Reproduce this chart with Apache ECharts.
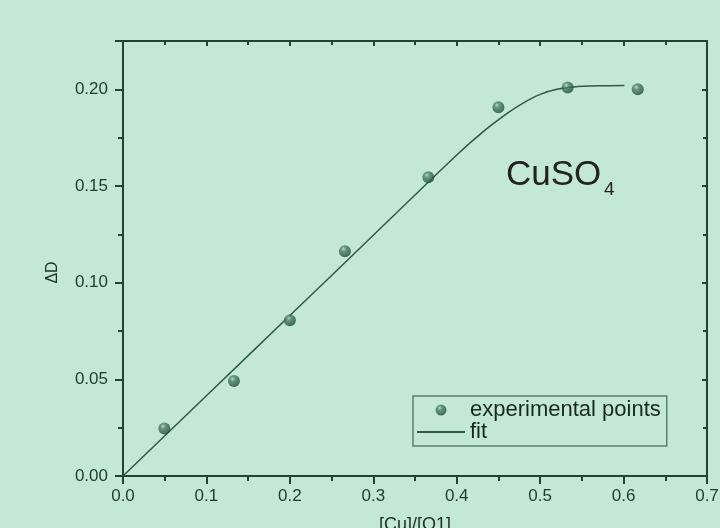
<!DOCTYPE html>
<html>

<head>
  <title>CuSO4</title>
  <script src="https://cdn.jsdelivr.net/npm/echarts@6/dist/echarts.min.js"></script>
  <style>
    html, body { margin: 0; padding: 0; background: #c3e9d6; }
  </style>
</head>

<body>
  <div id="main" style="width: 720px;height:528px;"></div>
  <script>
    // experimental points
    var pointX = [0.0496, 0.133, 0.2, 0.266, 0.366, 0.45, 0.533, 0.617];
    var pointY = [0.0246, 0.0491, 0.0806, 0.1163, 0.1545, 0.1907, 0.2010, 0.2000];
    // fit curve
    var fitX = [0, 0.1, 0.2, 0.3, 0.4, 0.43, 0.46, 0.48, 0.5, 0.52, 0.54, 0.57, 0.601];
    var fitY = [0, 0.0415, 0.083, 0.1245, 0.166, 0.1775, 0.1874, 0.193, 0.1974, 0.2, 0.2012, 0.2018, 0.202];

    var axisColor = '#1e4432';
    var font = 'Liberation Sans, Arial, sans-serif';

    var ball = {
      type: 'radial', x: 0.38, y: 0.32, r: 0.7,
      colorStops: [
        { offset: 0, color: '#b4d8c8' },
        { offset: 0.3, color: '#4f8169' },
        { offset: 1, color: '#1d4a35' }
      ]
    };

    var myChart = echarts.init(document.getElementById('main'));

    var baseAxis = {
      axisLine: { show: true, onZero: false, lineStyle: { color: axisColor, width: 2 } },
      splitLine: { show: false },
      minorSplitLine: { show: false }
    };

    var option = {
      backgroundColor: '#c3e9d6',
      animation: false,
      grid: { left: 123, right: 13, top: 41, bottom: 52, containLabel: false, outerBoundsMode: 'none' },
      legend: {
        orient: 'vertical',
        left: 413,
        top: 396,
        padding: [3, 6, 3, 3],
        itemGap: 0,
        itemWidth: 48,
        itemHeight: 11,
        borderColor: '#5f7f6f',
        borderWidth: 1.5,
        textStyle: { fontSize: 22, color: '#17291f', fontFamily: font },
        data: [
          { name: 'experimental points' },
          { name: 'fit', itemStyle: { color: 'transparent', borderColor: 'transparent', borderWidth: 0 } }
        ]
      },
      xAxis: [Object.assign({}, baseAxis, {
        type: 'value',
        min: 0,
        max: 0.7,
        interval: 0.1,
        name: '[Cu]/[Q1]',
        nameLocation: 'middle',
        nameGap: 40,
        nameTextStyle: { fontSize: 18, color: '#1a2e24', fontFamily: font },
        axisTick: { show: true, inside: false, length: 8, lineStyle: { color: axisColor, width: 2 } },
        minorTick: { show: true, splitNumber: 2, length: 5, lineStyle: { color: axisColor, width: 2 } },
        axisLabel: {
          margin: 12, fontSize: 17, color: '#1f3a2e', fontFamily: font,
          formatter: function (v) { return v.toFixed(1); }
        }
      }), Object.assign({}, baseAxis, {
        type: 'value',
        position: 'top',
        min: 0,
        max: 0.7,
        interval: 0.1,
        axisTick: { show: true, inside: true, length: 5, lineStyle: { color: axisColor, width: 2 } },
        minorTick: { show: true, splitNumber: 2, length: 4, lineStyle: { color: axisColor, width: 2 } },
        axisLabel: { show: false }
      })],
      yAxis: [Object.assign({}, baseAxis, {
        type: 'value',
        min: 0,
        max: 0.225,
        interval: 0.05,
        name: 'ΔD',
        nameLocation: 'middle',
        nameGap: 62,
        nameTextStyle: { fontSize: 16, color: '#1a2e24', fontFamily: font, padding: [0, 28, 0, 0] },
        axisTick: { show: true, inside: false, length: 8, lineStyle: { color: axisColor, width: 2 } },
        minorTick: { show: true, splitNumber: 2, length: 5, lineStyle: { color: axisColor, width: 2 } },
        axisLabel: {
          margin: 15, fontSize: 17, color: '#1f3a2e', fontFamily: font, showMaxLabel: false,
          formatter: function (v) { return v.toFixed(2); }
        }
      }), Object.assign({}, baseAxis, {
        type: 'value',
        position: 'right',
        min: 0,
        max: 0.225,
        interval: 0.05,
        axisTick: { show: true, inside: true, length: 5, lineStyle: { color: axisColor, width: 2 } },
        minorTick: { show: true, splitNumber: 2, length: 4, lineStyle: { color: axisColor, width: 2 } },
        axisLabel: { show: false }
      })],
      graphic: [
        {
          type: 'text', left: 506, top: 158, z: 10,
          style: { text: 'CuSO', fontSize: 35, fill: '#222', fontFamily: font }
        },
        {
          type: 'text', left: 604, top: 180, z: 10,
          style: { text: '4', fontSize: 19, fill: '#222', fontFamily: font }
        }
      ],
      series: [
        {
          name: 'experimental points',
          type: 'scatter',
          symbolSize: 12,
          itemStyle: { color: ball },
          z: 3,
          data: pointX.map(function (x, i) { return [x, pointY[i]]; })
        },
        {
          name: 'fit',
          type: 'line',
          showSymbol: false,
          symbol: 'none',
          smooth: 0.3,
          lineStyle: { color: '#2c5a44', width: 1.5 },
          itemStyle: { color: '#2c5a44' },
          z: 2,
          data: fitX.map(function (x, i) { return [x, fitY[i]]; })
        }
      ]
    };

    myChart.setOption(option);
  </script>
</body>

</html>
